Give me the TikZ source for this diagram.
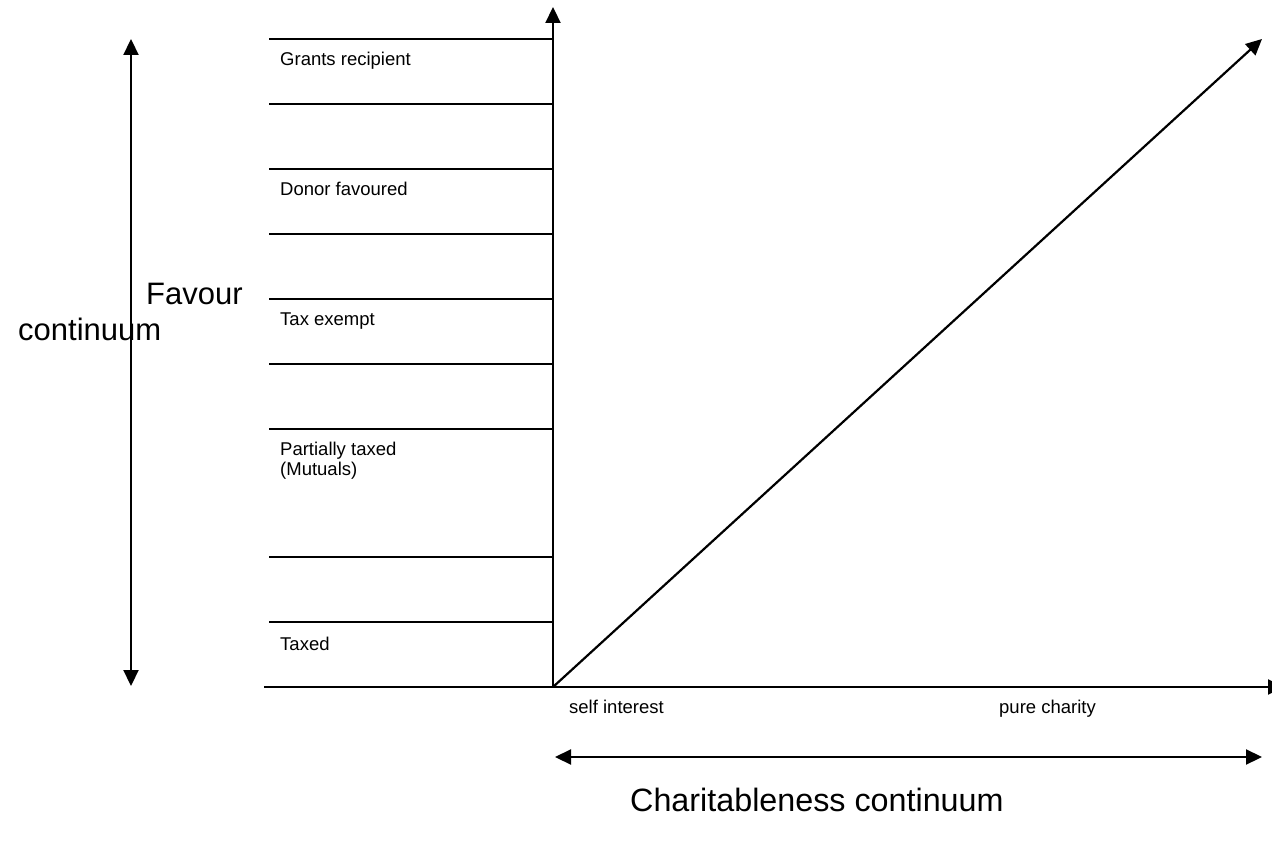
\documentclass[tikz,border=0pt]{standalone}
\usepackage{fontspec}
\setmainfont{Liberation Sans}
\usetikzlibrary{arrows.meta}
\begin{document}
\begin{tikzpicture}[x=1pt,y=-1pt,
  axis/.style={line width=2.2pt, -{Triangle[length=16pt,width=15pt]}},
  twoway/.style={line width=2.2pt, {Triangle[length=16pt,width=15pt]}-{Triangle[length=16pt,width=15pt]}},
  band/.style={line width=2pt},
  small/.style={anchor=base west, inner sep=0pt, font=\fontsize{18.5}{20}\selectfont},
  big/.style={anchor=base west, inner sep=0pt, font=\fontsize{31}{36}\selectfont}]
\useasboundingbox (0,0) rectangle (1272,842);
\clip (0,0) rectangle (1272,842);

% key points
\coordinate (O) at (553,687);
\coordinate (ytop) at (553,7);
\coordinate (xend) at (1284,687);
\coordinate (diag) at (1262,39);
\coordinate (vl1) at (131,39);
\coordinate (vl2) at (131,686);
\coordinate (hl1) at (555,757);
\coordinate (hl2) at (1262,757);

% horizontal bands of the favour scale
\foreach \yy/\nm in {39/a,104/b,169/c,234/d,299/e,364/f,429/g,557/h,622/i}{
  \coordinate (L\nm) at (269,\yy);
  \coordinate (R\nm) at (553,\yy);
  \draw[band] (L\nm) -- (R\nm);
}
\coordinate (Lz) at (264,687);
\draw[band] (Lz) -- (O);

% axes and diagonal
\draw[axis] (O) -- (ytop);
\draw[axis] (O) -- (xend);
\draw[axis] (O) -- (diag);

% continuum arrows
\draw[twoway] (vl2) -- (vl1);
\draw[twoway] (hl1) -- (hl2);

% band labels
\node[small] (grants) at (280,66) {Grants recipient};
\node[small] (donor) at (280,196) {Donor favoured};
\node[small] (exempt) at (280,326) {Tax exempt};
\node[small] (partial) at (280,455) {Partially taxed};
\node[small] (mutuals) at (280,475) {(Mutuals)};
\node[small] (taxed) at (280,650) {Taxed};

% axis labels
\node[small] (self) at (569,713) {self interest};
\node[small] (pure) at (999,713) {pure charity};
\node[big] (favour) at (146,305) {Favour};
\node[big] (cont) at (18,341) {continuum};
\node[big, font=\fontsize{32.3}{36}\selectfont] (charit) at (630,811) {Charitableness continuum};
\end{tikzpicture}
\end{document}
